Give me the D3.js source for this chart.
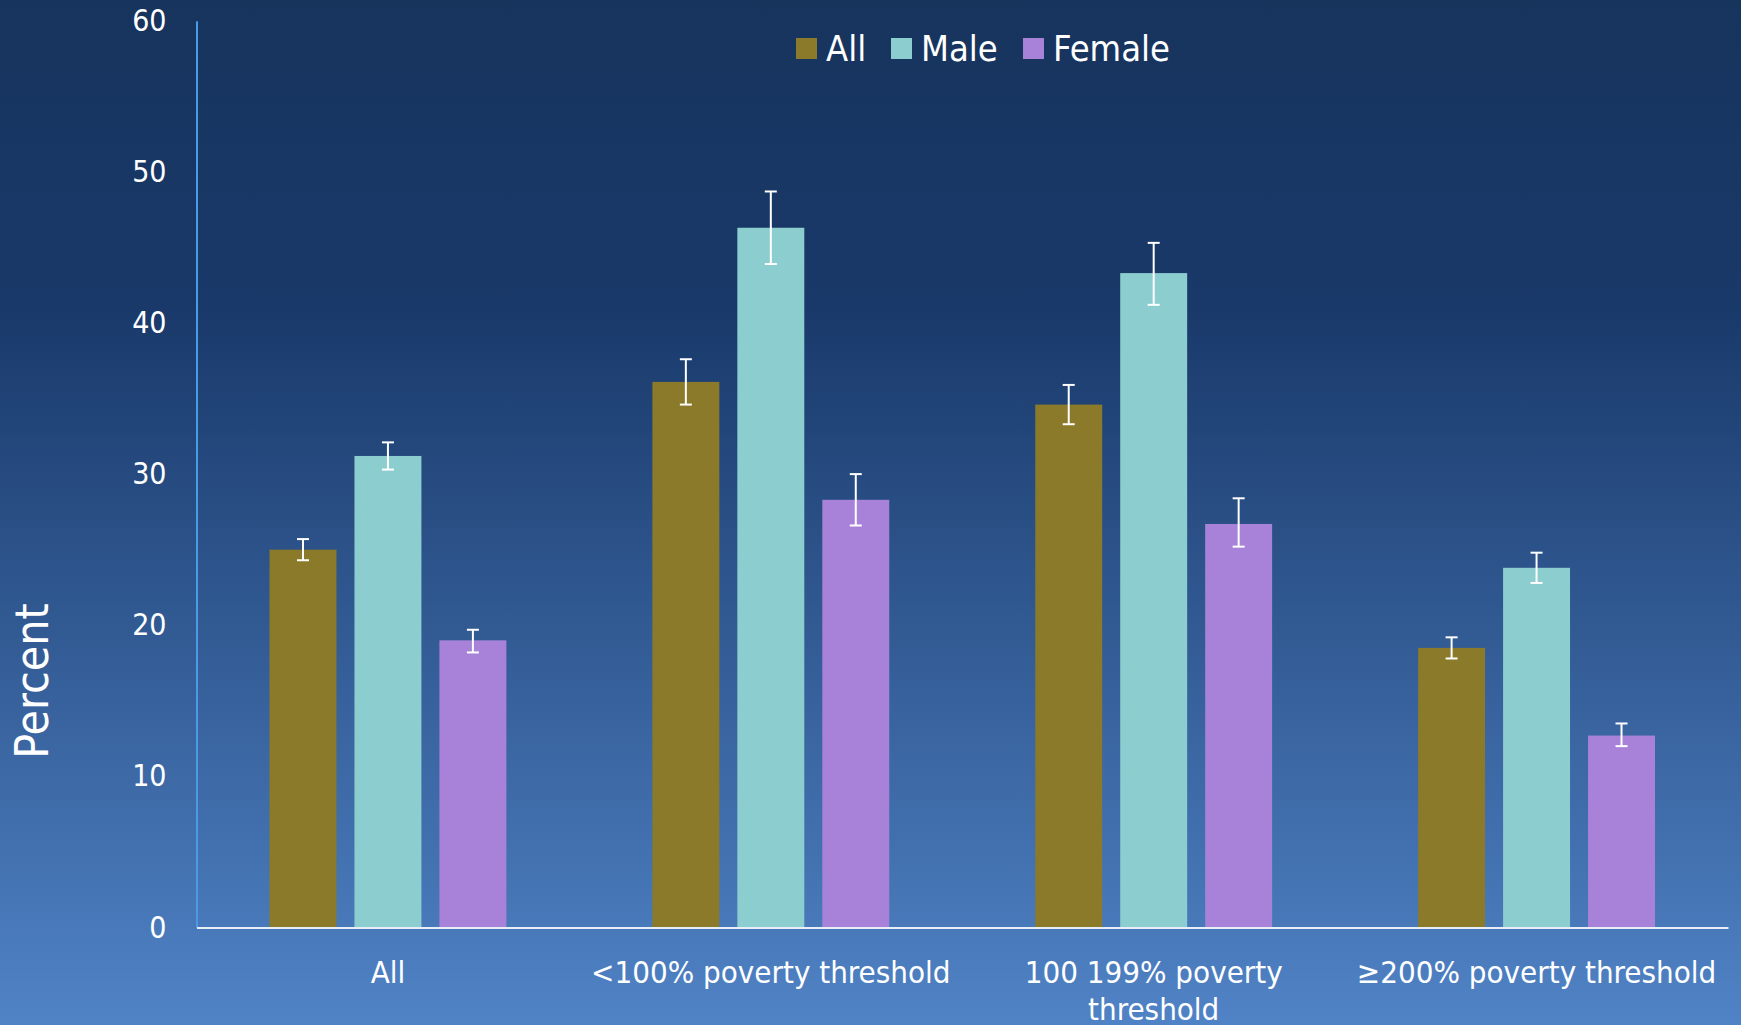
<!DOCTYPE html>
<html>
<head>
<meta charset="utf-8">
<script src="https://cdn.jsdelivr.net/npm/d3@7"></script>
<style>
  html, body { margin: 0; padding: 0; background: #17345E; }
  svg { display: block; }
  text { font-family: "DejaVu Sans Condensed", "DejaVu Sans", sans-serif; font-stretch: condensed; fill: #ffffff; }
</style>
</head>
<body>
<svg id="chart" width="1741" height="1025"></svg>
<script>
// ---- data ----
const categories = ["All", "<100% poverty threshold", "100 199% poverty threshold", "≥200% poverty threshold"];
const categoryLines = [["All"], ["<100% poverty threshold"], ["100 199% poverty", "threshold"], ["≥200% poverty threshold"]];
const seriesNames = ["All", "Male", "Female"];
const seriesColors = ["#8A7A29", "#8CCDCF", "#A882D8"];
const valuesAll    = [25.0, 36.1, 34.6, 18.5];
const valuesMale   = [31.2, 46.3, 43.3, 23.8];
const valuesFemale = [19.0, 28.3, 26.7, 12.7];
const lowerAll     = [24.3, 34.6, 33.3, 17.8];
const upperAll     = [25.7, 37.6, 35.9, 19.2];
const lowerMale    = [30.3, 43.9, 41.2, 22.8];
const upperMale    = [32.1, 48.7, 45.3, 24.8];
const lowerFemale  = [18.2, 26.6, 25.2, 12.0];
const upperFemale  = [19.7, 30.0, 28.4, 13.5];
const yTicks = [0, 10, 20, 30, 40, 50, 60];
const yLabel = "Percent";

const seriesValues = [valuesAll, valuesMale, valuesFemale];
const seriesLower = [lowerAll, lowerMale, lowerFemale];
const seriesUpper = [upperAll, upperMale, upperFemale];

const rows = [];
categories.forEach((c, i) => {
  seriesNames.forEach((s, j) => {
    rows.push({ cat: c, series: s, value: seriesValues[j][i], lo: seriesLower[j][i], hi: seriesUpper[j][i], color: seriesColors[j] });
  });
});

const svg = d3.select("#chart");
const W = 1741, H = 1025;

// background gradient
const defs = svg.append("defs");
const grad = defs.append("linearGradient").attr("id", "bg").attr("x1", 0).attr("y1", 0).attr("x2", 0).attr("y2", 1);
grad.append("stop").attr("offset", "0").attr("stop-color", "#17345D");
grad.append("stop").attr("offset", "0.3").attr("stop-color", "#19396A");
grad.append("stop").attr("offset", "1").attr("stop-color", "#5083C6");
svg.append("rect").attr("width", W).attr("height", H).attr("fill", "url(#bg)");

const xLeft = 196.5, xRight = 1728, yBottom = 927.5, yTop = 20.7;

const x0 = d3.scaleBand().domain(categories).range([xLeft, xRight]).padding(0);
const bw = x0.bandwidth();
const x1 = d3.scaleBand().domain(seriesNames).range([73, bw - 73]).paddingInner(0.212).paddingOuter(0);
const y = d3.scaleLinear().domain([0, 60]).range([yBottom, yTop]);
const color = d3.scaleOrdinal().domain(seriesNames).range(seriesColors);

// bars
svg.append("g").selectAll("rect").data(rows).join("rect")
  .attr("x", d => x0(d.cat) + x1(d.series))
  .attr("y", d => y(d.value))
  .attr("width", x1.bandwidth())
  .attr("height", d => y(0) - y(d.value))
  .attr("fill", d => color(d.series));

// error bars
const eg = svg.append("g").attr("stroke", "#ffffff").attr("stroke-width", 2).attr("fill", "none");
rows.forEach(d => {
  const cx = x0(d.cat) + x1(d.series) + x1.bandwidth() / 2;
  eg.append("line").attr("x1", cx).attr("x2", cx).attr("y1", y(d.hi)).attr("y2", y(d.lo));
  eg.append("line").attr("x1", cx - 6).attr("x2", cx + 6).attr("y1", y(d.hi)).attr("y2", y(d.hi));
  eg.append("line").attr("x1", cx - 6).attr("x2", cx + 6).attr("y1", y(d.lo)).attr("y2", y(d.lo));
});

// y axis
const yAxis = d3.axisLeft(y).tickValues(yTicks).tickSize(0).tickPadding(30).tickFormat(d3.format("d"));
const gy = svg.append("g").attr("transform", `translate(${xLeft},0)`).call(yAxis);
gy.select(".domain").attr("stroke", "#4A9BE6").attr("stroke-width", 2);
gy.selectAll("text").attr("font-size", 30).attr("fill", "#fff")
  .style("font-family", '"DejaVu Sans Condensed", "DejaVu Sans", sans-serif');

// x axis
const xAxis = d3.axisBottom(x0).tickSize(0).tickFormat("");
const gx = svg.append("g").attr("transform", `translate(0,${yBottom})`).call(xAxis);
gx.select(".domain").attr("stroke", "#E6EEF6").attr("stroke-width", 2);
gx.selectAll(".tick").each(function(d, i) {
  const t = d3.select(this).append("text")
    .attr("text-anchor", "middle")
    .attr("font-size", 31)
    .attr("fill", "#fff");
  categoryLines[i].forEach((ln, k) => {
    t.append("tspan").attr("x", 0).attr("y", 55 + k * 37).text(ln);
  });
});

// y label
svg.append("text")
  .attr("transform", `translate(48,${681}) rotate(-90)`)
  .attr("text-anchor", "middle")
  .attr("font-size", 46)
  .text(yLabel);

// legend
const legendX = [796, 891, 1023];
const lg = svg.append("g");
seriesNames.forEach((s, i) => {
  lg.append("rect").attr("x", legendX[i]).attr("y", 38).attr("width", 21).attr("height", 21).attr("fill", seriesColors[i]);
  lg.append("text").attr("x", legendX[i] + 30).attr("y", 61).attr("font-size", 36).text(s);
});
</script>
</body>
</html>
